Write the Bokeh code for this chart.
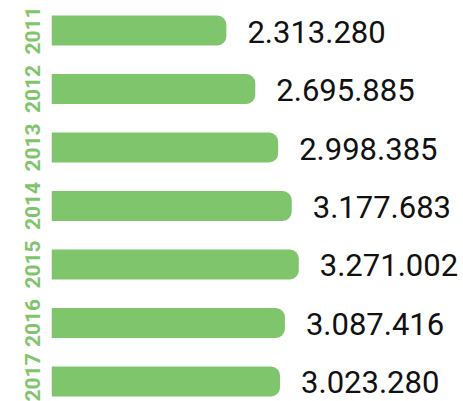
import math
from bokeh.plotting import figure
from bokeh.models import Range1d, FixedTicker, ColumnDataSource
from bokeh.core.properties import value
from bokeh.embed import file_html
from bokeh.resources import INLINE

years = ["2011", "2012", "2013", "2014", "2015", "2016", "2017"]
values = [2313280, 2695885, 2998385, 3177683, 3271002, 3087416, 3023280]
value_labels = ["2.313.280", "2.695.885", "2.998.385", "3.177.683", "3.271.002", "3.087.416", "3.023.280"]

positions = list(range(len(years)))
GREEN = "#7fc56b"

src = ColumnDataSource(dict(y=positions, v=values, lab=value_labels))

p = figure(width=463, height=401, output_backend="svg", toolbar_location=None,
           x_range=Range1d(0, 5450000), y_range=Range1d(6.342, -0.513),
           min_border_left=51, min_border_right=0, min_border_top=0, min_border_bottom=0)

p.hbar(y="y", right="v", left=0, height=0.51, source=src, fill_color=GREEN,
       line_color=None, border_radius=(0, 9, 9, 0))

p.text(x="v", y="y", text="lab", source=src, x_offset=21, y_offset=1, text_align="left",
       text_baseline="middle", text_font=value("Roboto"), text_font_size="31px",
       text_color="#111111")

p.xaxis.visible = False
ax = p.yaxis[0]
ax.ticker = FixedTicker(ticks=positions)
ax.major_label_overrides = {i: y for i, y in zip(positions, years)}
ax.major_label_orientation = "vertical"
ax.major_tick_in = 0
ax.major_tick_out = 0
ax.minor_tick_in = 0
ax.minor_tick_out = 0
ax.axis_line_color = None
ax.major_label_standoff = 11
ax.major_label_text_color = GREEN
ax.major_label_text_font = "Roboto"
ax.major_label_text_font_size = "21px"
ax.major_label_text_font_style = "bold"

p.xgrid.visible = False
p.ygrid.visible = False
p.outline_line_color = None
p.background_fill_color = "white"
p.border_fill_color = "white"

open("out.html", "w").write(file_html(p, INLINE))
